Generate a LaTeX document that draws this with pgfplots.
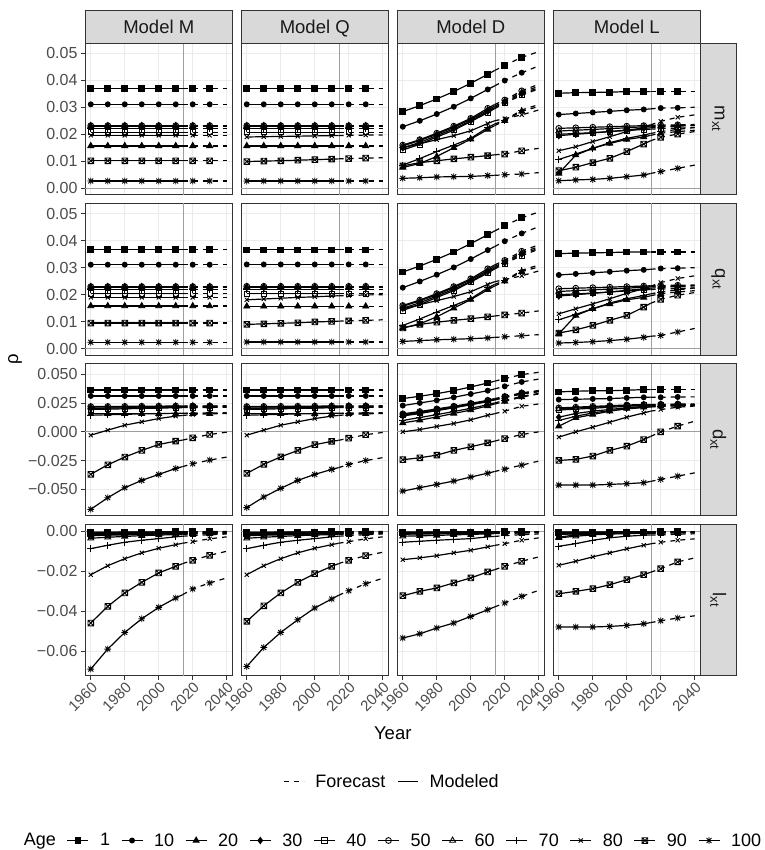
\documentclass[border=0pt]{standalone}
\usepackage{pgfplots}
\pgfplotsset{compat=1.18}
\usepackage{pgfplotstable}
\usepackage{fontspec}
\setmainfont{Liberation Sans}
\usetikzlibrary{plotmarks}

\newcommand\tickfont{\fontsize{16bp}{18bp}\selectfont}
\newcommand\xtickfont{\fontsize{15bp}{17bp}\selectfont}
\newcommand\stripfont{\fontsize{18.5bp}{20bp}\selectfont}
\newcommand\titlefont{\fontsize{18.5bp}{20bp}\selectfont}
\newcommand\legfont{\fontsize{18bp}{20bp}\selectfont}

\pgfdeclareplotmark{sqx}{%
  \pgfpathrectangle{\pgfqpoint{-\pgfplotmarksize}{-\pgfplotmarksize}}{\pgfqpoint{2\pgfplotmarksize}{2\pgfplotmarksize}}%
  \pgfpathmoveto{\pgfqpoint{-\pgfplotmarksize}{-\pgfplotmarksize}}%
  \pgfpathlineto{\pgfqpoint{\pgfplotmarksize}{\pgfplotmarksize}}%
  \pgfpathmoveto{\pgfqpoint{-\pgfplotmarksize}{\pgfplotmarksize}}%
  \pgfpathlineto{\pgfqpoint{\pgfplotmarksize}{-\pgfplotmarksize}}%
  \pgfusepathqstroke}
\pgfdeclareplotmark{ast8}{%
  \pgfpathmoveto{\pgfqpoint{0pt}{\pgfplotmarksize}}\pgfpathlineto{\pgfqpoint{0pt}{-\pgfplotmarksize}}%
  \pgfpathmoveto{\pgfqpoint{\pgfplotmarksize}{0pt}}\pgfpathlineto{\pgfqpoint{-\pgfplotmarksize}{0pt}}%
  \pgfpathmoveto{\pgfqpoint{.72\pgfplotmarksize}{.72\pgfplotmarksize}}\pgfpathlineto{\pgfqpoint{-.72\pgfplotmarksize}{-.72\pgfplotmarksize}}%
  \pgfpathmoveto{\pgfqpoint{-.72\pgfplotmarksize}{.72\pgfplotmarksize}}\pgfpathlineto{\pgfqpoint{.72\pgfplotmarksize}{-.72\pgfplotmarksize}}%
  \pgfusepathqstroke}

% ---------------- data: one table per panel ----------------
% row 1: m_xt
\pgfplotstableread{
year a1 a10 a20 a30 a40 a50 a60 a70 a80 a90 a100
1960 0.0370 0.0311 0.0157 0.0228 0.0208 0.0232 0.0231 0.0222 0.0196 0.0102 0.0027
1970 0.0370 0.0311 0.0157 0.0228 0.0208 0.0232 0.0231 0.0222 0.0196 0.0102 0.0027
1980 0.0370 0.0311 0.0157 0.0228 0.0208 0.0232 0.0231 0.0222 0.0196 0.0102 0.0027
1990 0.0370 0.0311 0.0157 0.0228 0.0208 0.0232 0.0231 0.0222 0.0196 0.0102 0.0027
2000 0.0370 0.0311 0.0157 0.0228 0.0208 0.0232 0.0231 0.0222 0.0196 0.0102 0.0027
2010 0.0370 0.0311 0.0157 0.0228 0.0208 0.0232 0.0231 0.0222 0.0196 0.0102 0.0027
2014 0.0370 0.0311 0.0157 0.0228 0.0208 0.0232 0.0231 0.0222 0.0196 0.0102 0.0027
2020 0.0370 0.0311 0.0157 0.0228 0.0208 0.0232 0.0231 0.0222 0.0196 0.0102 0.0027
2030 0.0370 0.0311 0.0157 0.0228 0.0208 0.0232 0.0231 0.0222 0.0196 0.0102 0.0027
2040 0.0370 0.0311 0.0157 0.0228 0.0208 0.0232 0.0231 0.0222 0.0196 0.0102 0.0027
}\tMa
\pgfplotstableread{
year a1 a10 a20 a30 a40 a50 a60 a70 a80 a90 a100
1960 0.0370 0.0311 0.0157 0.0228 0.0208 0.0232 0.0231 0.0222 0.0190 0.0099 0.0027
1970 0.0370 0.0311 0.0157 0.0228 0.0208 0.0232 0.0231 0.0222 0.0191 0.0101 0.0027
1980 0.0370 0.0311 0.0157 0.0228 0.0208 0.0232 0.0231 0.0222 0.0192 0.0102 0.0027
1990 0.0370 0.0311 0.0157 0.0228 0.0208 0.0232 0.0231 0.0222 0.0193 0.0104 0.0027
2000 0.0370 0.0311 0.0157 0.0228 0.0208 0.0232 0.0231 0.0222 0.0194 0.0106 0.0027
2010 0.0370 0.0311 0.0157 0.0228 0.0208 0.0232 0.0231 0.0222 0.0195 0.0108 0.0027
2014 0.0370 0.0311 0.0157 0.0228 0.0208 0.0232 0.0231 0.0222 0.0195 0.0109 0.0027
2020 0.0370 0.0311 0.0157 0.0228 0.0208 0.0232 0.0231 0.0222 0.0196 0.0110 0.0027
2030 0.0370 0.0311 0.0157 0.0228 0.0208 0.0232 0.0231 0.0222 0.0197 0.0112 0.0027
2040 0.0370 0.0311 0.0157 0.0228 0.0208 0.0232 0.0231 0.0222 0.0197 0.0113 0.0027
}\tQa
\pgfplotstableread{
year a1 a10 a20 a30 a40 a50 a60 a70 a80 a90 a100
1960 0.0284 0.0228 0.0077 0.0150 0.0142 0.0160 0.0157 0.0086 0.0150 0.0083 0.0037
1970 0.0306 0.0250 0.0092 0.0170 0.0163 0.0180 0.0177 0.0110 0.0165 0.0095 0.0039
1980 0.0331 0.0275 0.0118 0.0195 0.0190 0.0204 0.0200 0.0136 0.0180 0.0102 0.0042
1990 0.0358 0.0302 0.0150 0.0220 0.0215 0.0230 0.0226 0.0160 0.0195 0.0109 0.0043
2000 0.0389 0.0333 0.0182 0.0250 0.0247 0.0259 0.0255 0.0185 0.0213 0.0115 0.0044
2010 0.0422 0.0366 0.0218 0.0285 0.0280 0.0296 0.0290 0.0225 0.0240 0.0121 0.0047
2014 0.0436 0.0379 0.0232 0.0299 0.0295 0.0310 0.0304 0.0238 0.0250 0.0124 0.0048
2020 0.0455 0.0399 0.0250 0.0318 0.0315 0.0327 0.0322 0.0252 0.0258 0.0127 0.0050
2030 0.0485 0.0428 0.0285 0.0350 0.0345 0.0361 0.0355 0.0290 0.0272 0.0139 0.0053
2040 0.0506 0.0453 0.0303 0.0372 0.0368 0.0385 0.0378 0.0310 0.0290 0.0148 0.0058
}\tDa
\pgfplotstableread{
year a1 a10 a20 a30 a40 a50 a60 a70 a80 a90 a100
1960 0.0352 0.0273 0.0055 0.0195 0.0200 0.0222 0.0212 0.0107 0.0139 0.0065 0.0028
1970 0.0354 0.0277 0.0123 0.0200 0.0203 0.0224 0.0215 0.0127 0.0154 0.0078 0.0031
1980 0.0355 0.0281 0.0148 0.0205 0.0206 0.0226 0.0218 0.0148 0.0173 0.0095 0.0033
1990 0.0356 0.0285 0.0166 0.0210 0.0210 0.0228 0.0221 0.0169 0.0191 0.0111 0.0037
2000 0.0358 0.0289 0.0181 0.0216 0.0214 0.0230 0.0224 0.0185 0.0210 0.0136 0.0043
2010 0.0358 0.0292 0.0190 0.0222 0.0218 0.0232 0.0228 0.0197 0.0226 0.0164 0.0049
2014 0.0358 0.0294 0.0196 0.0224 0.0219 0.0233 0.0229 0.0203 0.0235 0.0176 0.0055
2020 0.0358 0.0297 0.0204 0.0227 0.0221 0.0234 0.0230 0.0210 0.0248 0.0189 0.0062
2030 0.0358 0.0298 0.0210 0.0230 0.0223 0.0235 0.0232 0.0218 0.0263 0.0201 0.0074
2040 0.0358 0.0300 0.0215 0.0233 0.0225 0.0236 0.0233 0.0225 0.0272 0.0210 0.0086
}\tLa
% row 2: q_xt
\pgfplotstableread{
year a1 a10 a20 a30 a40 a50 a60 a70 a80 a90 a100
1960 0.0368 0.0311 0.0158 0.0226 0.0205 0.0230 0.0229 0.0218 0.0190 0.0095 0.0024
1970 0.0368 0.0311 0.0158 0.0226 0.0205 0.0230 0.0229 0.0218 0.0190 0.0095 0.0024
1980 0.0368 0.0311 0.0158 0.0226 0.0205 0.0230 0.0229 0.0218 0.0190 0.0095 0.0024
1990 0.0368 0.0311 0.0158 0.0226 0.0205 0.0230 0.0229 0.0218 0.0190 0.0095 0.0024
2000 0.0368 0.0311 0.0158 0.0226 0.0205 0.0230 0.0229 0.0218 0.0190 0.0095 0.0024
2010 0.0368 0.0311 0.0158 0.0226 0.0205 0.0230 0.0229 0.0218 0.0190 0.0095 0.0024
2014 0.0368 0.0311 0.0158 0.0226 0.0205 0.0230 0.0229 0.0218 0.0190 0.0095 0.0024
2020 0.0368 0.0311 0.0158 0.0226 0.0205 0.0230 0.0229 0.0218 0.0190 0.0095 0.0024
2030 0.0368 0.0311 0.0158 0.0226 0.0205 0.0230 0.0229 0.0218 0.0190 0.0095 0.0024
2040 0.0368 0.0311 0.0158 0.0226 0.0205 0.0230 0.0229 0.0218 0.0190 0.0095 0.0024
}\tMb
\pgfplotstableread{
year a1 a10 a20 a30 a40 a50 a60 a70 a80 a90 a100
1960 0.0366 0.0312 0.0157 0.0226 0.0203 0.0231 0.0229 0.0218 0.0181 0.0090 0.0025
1970 0.0366 0.0312 0.0157 0.0226 0.0203 0.0231 0.0229 0.0218 0.0184 0.0092 0.0025
1980 0.0366 0.0312 0.0157 0.0226 0.0203 0.0231 0.0229 0.0218 0.0187 0.0094 0.0025
1990 0.0366 0.0312 0.0157 0.0226 0.0203 0.0231 0.0229 0.0218 0.0190 0.0096 0.0025
2000 0.0366 0.0312 0.0157 0.0226 0.0203 0.0231 0.0229 0.0218 0.0192 0.0099 0.0025
2010 0.0366 0.0312 0.0157 0.0226 0.0203 0.0231 0.0229 0.0218 0.0195 0.0101 0.0025
2014 0.0366 0.0312 0.0157 0.0226 0.0203 0.0231 0.0229 0.0218 0.0196 0.0102 0.0025
2020 0.0366 0.0312 0.0157 0.0226 0.0203 0.0231 0.0229 0.0218 0.0197 0.0103 0.0025
2030 0.0366 0.0312 0.0157 0.0226 0.0203 0.0231 0.0229 0.0218 0.0199 0.0105 0.0025
2040 0.0366 0.0312 0.0157 0.0226 0.0203 0.0231 0.0229 0.0218 0.0200 0.0107 0.0025
}\tQb
\pgfplotstableread{
year a1 a10 a20 a30 a40 a50 a60 a70 a80 a90 a100
1960 0.0284 0.0226 0.0077 0.0150 0.0142 0.0160 0.0157 0.0086 0.0148 0.0077 0.0027
1970 0.0306 0.0249 0.0092 0.0170 0.0163 0.0180 0.0177 0.0110 0.0163 0.0090 0.0030
1980 0.0331 0.0274 0.0118 0.0195 0.0190 0.0204 0.0200 0.0136 0.0178 0.0098 0.0033
1990 0.0358 0.0301 0.0150 0.0220 0.0215 0.0230 0.0226 0.0160 0.0193 0.0105 0.0035
2000 0.0389 0.0332 0.0182 0.0250 0.0247 0.0259 0.0255 0.0185 0.0211 0.0111 0.0037
2010 0.0422 0.0365 0.0218 0.0285 0.0280 0.0296 0.0290 0.0225 0.0238 0.0118 0.0040
2014 0.0436 0.0378 0.0232 0.0299 0.0295 0.0310 0.0304 0.0238 0.0248 0.0121 0.0042
2020 0.0455 0.0398 0.0250 0.0318 0.0315 0.0327 0.0322 0.0252 0.0256 0.0125 0.0044
2030 0.0485 0.0427 0.0285 0.0350 0.0345 0.0361 0.0355 0.0290 0.0270 0.0132 0.0048
2040 0.0506 0.0452 0.0303 0.0372 0.0368 0.0385 0.0378 0.0310 0.0288 0.0140 0.0052
}\tDb
\pgfplotstableread{
year a1 a10 a20 a30 a40 a50 a60 a70 a80 a90 a100
1960 0.0352 0.0273 0.0055 0.0195 0.0200 0.0222 0.0212 0.0107 0.0129 0.0058 0.0021
1970 0.0354 0.0277 0.0123 0.0200 0.0203 0.0224 0.0215 0.0127 0.0148 0.0070 0.0023
1980 0.0355 0.0281 0.0148 0.0205 0.0206 0.0226 0.0218 0.0148 0.0166 0.0086 0.0026
1990 0.0356 0.0285 0.0166 0.0210 0.0210 0.0228 0.0221 0.0169 0.0185 0.0105 0.0030
2000 0.0358 0.0289 0.0181 0.0216 0.0214 0.0230 0.0224 0.0185 0.0205 0.0123 0.0035
2010 0.0358 0.0292 0.0190 0.0222 0.0218 0.0232 0.0228 0.0197 0.0222 0.0154 0.0042
2014 0.0358 0.0294 0.0196 0.0224 0.0219 0.0233 0.0229 0.0203 0.0231 0.0168 0.0046
2020 0.0358 0.0297 0.0204 0.0227 0.0221 0.0234 0.0230 0.0210 0.0245 0.0183 0.0049
2030 0.0358 0.0298 0.0210 0.0230 0.0223 0.0235 0.0232 0.0218 0.0260 0.0198 0.0062
2040 0.0358 0.0300 0.0215 0.0233 0.0225 0.0236 0.0233 0.0225 0.0270 0.0208 0.0075
}\tLb
% row 3: d_xt
\pgfplotstableread{
year a1 a10 a20 a30 a40 a50 a60 a70 a80 a90 a100
1960 0.0365 0.0313 0.0157 0.0205 0.0195 0.0220 0.0215 0.0145 -0.0029 -0.0370 -0.0675
1970 0.0365 0.0313 0.0157 0.0207 0.0198 0.0221 0.0216 0.0149 0.0015 -0.0287 -0.0574
1980 0.0365 0.0313 0.0157 0.0209 0.0201 0.0222 0.0217 0.0153 0.0058 -0.0220 -0.0487
1990 0.0365 0.0313 0.0157 0.0211 0.0204 0.0223 0.0218 0.0156 0.0087 -0.0162 -0.0423
2000 0.0365 0.0313 0.0157 0.0213 0.0207 0.0224 0.0220 0.0159 0.0116 -0.0110 -0.0371
2010 0.0365 0.0313 0.0157 0.0215 0.0210 0.0225 0.0222 0.0162 0.0137 -0.0081 -0.0319
2014 0.0365 0.0313 0.0157 0.0215 0.0211 0.0225 0.0222 0.0163 0.0143 -0.0072 -0.0303
2020 0.0365 0.0313 0.0157 0.0216 0.0212 0.0226 0.0223 0.0164 0.0151 -0.0052 -0.0278
2030 0.0365 0.0313 0.0157 0.0217 0.0213 0.0226 0.0223 0.0165 0.0157 -0.0023 -0.0246
2040 0.0365 0.0313 0.0157 0.0218 0.0214 0.0227 0.0224 0.0166 0.0160 -0.0003 -0.0220
}\tMc
\pgfplotstableread{
year a1 a10 a20 a30 a40 a50 a60 a70 a80 a90 a100
1960 0.0365 0.0313 0.0157 0.0205 0.0195 0.0220 0.0215 0.0145 -0.0029 -0.0362 -0.0660
1970 0.0365 0.0313 0.0157 0.0207 0.0198 0.0221 0.0216 0.0149 0.0015 -0.0283 -0.0568
1980 0.0365 0.0313 0.0157 0.0209 0.0201 0.0222 0.0217 0.0153 0.0058 -0.0218 -0.0492
1990 0.0365 0.0313 0.0157 0.0211 0.0204 0.0223 0.0218 0.0156 0.0087 -0.0162 -0.0423
2000 0.0365 0.0313 0.0157 0.0213 0.0207 0.0224 0.0220 0.0159 0.0116 -0.0112 -0.0371
2010 0.0365 0.0313 0.0157 0.0215 0.0210 0.0225 0.0222 0.0162 0.0137 -0.0083 -0.0327
2014 0.0365 0.0313 0.0157 0.0215 0.0211 0.0225 0.0222 0.0163 0.0143 -0.0074 -0.0312
2020 0.0365 0.0313 0.0157 0.0216 0.0212 0.0226 0.0223 0.0164 0.0151 -0.0055 -0.0284
2030 0.0365 0.0313 0.0157 0.0217 0.0213 0.0226 0.0223 0.0165 0.0157 -0.0025 -0.0250
2040 0.0365 0.0313 0.0157 0.0218 0.0214 0.0227 0.0224 0.0166 0.0160 -0.0005 -0.0225
}\tQc
\pgfplotstableread{
year a1 a10 a20 a30 a40 a50 a60 a70 a80 a90 a100
1960 0.0290 0.0229 0.0078 0.0138 0.0145 0.0157 0.0150 0.0099 0.0000 -0.0243 -0.0516
1970 0.0310 0.0252 0.0102 0.0160 0.0165 0.0177 0.0170 0.0125 0.0020 -0.0226 -0.0487
1980 0.0333 0.0275 0.0130 0.0185 0.0188 0.0200 0.0193 0.0150 0.0047 -0.0203 -0.0458
1990 0.0359 0.0301 0.0160 0.0210 0.0212 0.0223 0.0217 0.0177 0.0073 -0.0162 -0.0429
2000 0.0391 0.0330 0.0190 0.0236 0.0238 0.0248 0.0243 0.0205 0.0105 -0.0130 -0.0394
2010 0.0426 0.0359 0.0226 0.0264 0.0266 0.0275 0.0270 0.0237 0.0145 -0.0096 -0.0360
2014 0.0441 0.0374 0.0242 0.0278 0.0280 0.0290 0.0284 0.0252 0.0158 -0.0081 -0.0346
2020 0.0464 0.0397 0.0265 0.0298 0.0300 0.0308 0.0303 0.0273 0.0180 -0.0058 -0.0325
2030 0.0499 0.0435 0.0303 0.0330 0.0332 0.0340 0.0335 0.0310 0.0223 -0.0023 -0.0290
2040 0.0519 0.0460 0.0330 0.0350 0.0352 0.0360 0.0355 0.0335 0.0243 0.0000 -0.0255
}\tDc
\pgfplotstableread{
year a1 a10 a20 a30 a40 a50 a60 a70 a80 a90 a100
1960 0.0348 0.0281 0.0049 0.0128 0.0190 0.0209 0.0200 0.0099 -0.0046 -0.0249 -0.0464
1970 0.0354 0.0284 0.0122 0.0160 0.0198 0.0215 0.0207 0.0136 0.0000 -0.0240 -0.0464
1980 0.0358 0.0287 0.0151 0.0180 0.0206 0.0222 0.0215 0.0165 0.0041 -0.0211 -0.0464
1990 0.0358 0.0290 0.0180 0.0195 0.0214 0.0228 0.0222 0.0185 0.0084 -0.0162 -0.0458
2000 0.0363 0.0296 0.0203 0.0210 0.0222 0.0234 0.0229 0.0200 0.0128 -0.0125 -0.0452
2010 0.0368 0.0301 0.0215 0.0222 0.0230 0.0238 0.0235 0.0212 0.0165 -0.0067 -0.0443
2014 0.0368 0.0301 0.0219 0.0226 0.0232 0.0239 0.0236 0.0217 0.0180 -0.0040 -0.0432
2020 0.0368 0.0301 0.0223 0.0229 0.0234 0.0240 0.0237 0.0222 0.0194 0.0000 -0.0414
2030 0.0368 0.0304 0.0229 0.0232 0.0236 0.0242 0.0238 0.0227 0.0215 0.0050 -0.0386
2040 0.0368 0.0305 0.0232 0.0234 0.0237 0.0243 0.0239 0.0230 0.0225 0.0093 -0.0357
}\tLc
% row 4: l_xt
\pgfplotstableread{
year a1 a10 a20 a30 a40 a50 a60 a70 a80 a90 a100
1960 -0.0008 -0.0005 -0.0017 -0.0012 -0.0022 -0.0019 -0.0035 -0.0087 -0.0217 -0.0458 -0.0688
1970 -0.0007 -0.0005 -0.0015 -0.0011 -0.0020 -0.0017 -0.0030 -0.0070 -0.0172 -0.0375 -0.0588
1980 -0.0006 -0.0004 -0.0013 -0.0010 -0.0018 -0.0015 -0.0026 -0.0055 -0.0137 -0.0308 -0.0505
1990 -0.0005 -0.0004 -0.0012 -0.0009 -0.0016 -0.0014 -0.0022 -0.0045 -0.0108 -0.0255 -0.0437
2000 -0.0004 -0.0003 -0.0011 -0.0008 -0.0014 -0.0013 -0.0019 -0.0037 -0.0085 -0.0208 -0.0380
2010 -0.0003 -0.0003 -0.0010 -0.0007 -0.0013 -0.0012 -0.0017 -0.0028 -0.0067 -0.0175 -0.0333
2014 -0.0003 -0.0003 -0.0009 -0.0007 -0.0012 -0.0011 -0.0016 -0.0025 -0.0060 -0.0162 -0.0317
2020 -0.0002 -0.0002 -0.0008 -0.0006 -0.0011 -0.0010 -0.0014 -0.0022 -0.0052 -0.0145 -0.0288
2030 -0.0002 -0.0002 -0.0007 -0.0005 -0.0010 -0.0009 -0.0012 -0.0017 -0.0038 -0.0120 -0.0258
2040 -0.0001 -0.0002 -0.0006 -0.0005 -0.0009 -0.0008 -0.0011 -0.0014 -0.0028 -0.0100 -0.0233
}\tMd
\pgfplotstableread{
year a1 a10 a20 a30 a40 a50 a60 a70 a80 a90 a100
1960 -0.0008 -0.0005 -0.0017 -0.0012 -0.0022 -0.0019 -0.0035 -0.0087 -0.0217 -0.0450 -0.0675
1970 -0.0007 -0.0005 -0.0015 -0.0011 -0.0020 -0.0017 -0.0030 -0.0070 -0.0172 -0.0372 -0.0580
1980 -0.0006 -0.0004 -0.0013 -0.0010 -0.0018 -0.0015 -0.0026 -0.0055 -0.0137 -0.0308 -0.0505
1990 -0.0005 -0.0004 -0.0012 -0.0009 -0.0016 -0.0014 -0.0022 -0.0045 -0.0108 -0.0255 -0.0442
2000 -0.0004 -0.0003 -0.0011 -0.0008 -0.0014 -0.0013 -0.0019 -0.0037 -0.0085 -0.0212 -0.0383
2010 -0.0003 -0.0003 -0.0010 -0.0007 -0.0013 -0.0012 -0.0017 -0.0028 -0.0067 -0.0175 -0.0338
2014 -0.0003 -0.0003 -0.0009 -0.0007 -0.0012 -0.0011 -0.0016 -0.0025 -0.0060 -0.0162 -0.0320
2020 -0.0002 -0.0002 -0.0008 -0.0006 -0.0011 -0.0010 -0.0014 -0.0022 -0.0052 -0.0145 -0.0297
2030 -0.0002 -0.0002 -0.0007 -0.0005 -0.0010 -0.0009 -0.0012 -0.0017 -0.0038 -0.0122 -0.0262
2040 -0.0001 -0.0002 -0.0006 -0.0005 -0.0009 -0.0008 -0.0011 -0.0014 -0.0028 -0.0105 -0.0235
}\tQd
\pgfplotstableread{
year a1 a10 a20 a30 a40 a50 a60 a70 a80 a90 a100
1960 -0.0006 -0.0004 -0.0012 -0.0010 -0.0015 -0.0013 -0.0025 -0.0055 -0.0142 -0.0322 -0.0533
1970 -0.0006 -0.0004 -0.0011 -0.0009 -0.0014 -0.0012 -0.0023 -0.0050 -0.0133 -0.0300 -0.0512
1980 -0.0005 -0.0004 -0.0010 -0.0009 -0.0013 -0.0011 -0.0021 -0.0045 -0.0122 -0.0283 -0.0483
1990 -0.0005 -0.0003 -0.0009 -0.0008 -0.0012 -0.0010 -0.0018 -0.0041 -0.0108 -0.0258 -0.0458
2000 -0.0004 -0.0003 -0.0008 -0.0007 -0.0011 -0.0009 -0.0016 -0.0037 -0.0095 -0.0233 -0.0425
2010 -0.0004 -0.0003 -0.0007 -0.0006 -0.0010 -0.0008 -0.0013 -0.0028 -0.0078 -0.0203 -0.0392
2014 -0.0003 -0.0003 -0.0007 -0.0006 -0.0009 -0.0008 -0.0012 -0.0026 -0.0071 -0.0192 -0.0378
2020 -0.0003 -0.0002 -0.0006 -0.0005 -0.0008 -0.0007 -0.0011 -0.0022 -0.0062 -0.0175 -0.0358
2030 -0.0003 -0.0002 -0.0005 -0.0005 -0.0007 -0.0006 -0.0009 -0.0017 -0.0045 -0.0150 -0.0325
2040 -0.0002 -0.0002 -0.0005 -0.0004 -0.0006 -0.0005 -0.0008 -0.0014 -0.0033 -0.0128 -0.0295
}\tDd
\pgfplotstableread{
year a1 a10 a20 a30 a40 a50 a60 a70 a80 a90 a100
1960 -0.0006 -0.0004 -0.0030 -0.0015 -0.0015 -0.0013 -0.0033 -0.0075 -0.0170 -0.0312 -0.0478
1970 -0.0006 -0.0004 -0.0018 -0.0012 -0.0014 -0.0012 -0.0025 -0.0062 -0.0150 -0.0300 -0.0478
1980 -0.0005 -0.0004 -0.0014 -0.0010 -0.0013 -0.0011 -0.0018 -0.0045 -0.0128 -0.0287 -0.0478
1990 -0.0005 -0.0003 -0.0011 -0.0009 -0.0012 -0.0010 -0.0014 -0.0033 -0.0108 -0.0267 -0.0475
2000 -0.0004 -0.0003 -0.0009 -0.0008 -0.0011 -0.0009 -0.0012 -0.0025 -0.0088 -0.0242 -0.0470
2010 -0.0004 -0.0003 -0.0008 -0.0007 -0.0010 -0.0008 -0.0010 -0.0020 -0.0070 -0.0217 -0.0462
2014 -0.0003 -0.0003 -0.0008 -0.0007 -0.0009 -0.0008 -0.0010 -0.0019 -0.0063 -0.0205 -0.0456
2020 -0.0003 -0.0002 -0.0007 -0.0006 -0.0008 -0.0007 -0.0009 -0.0018 -0.0055 -0.0187 -0.0447
2030 -0.0003 -0.0002 -0.0006 -0.0006 -0.0007 -0.0006 -0.0008 -0.0015 -0.0045 -0.0153 -0.0433
2040 -0.0002 -0.0002 -0.0006 -0.0005 -0.0006 -0.0005 -0.0008 -0.0013 -0.0038 -0.0133 -0.0422
}\tLd

\pgfplotsset{
  mline/.style={black, line width=1.2bp, no markers},
  fdash/.style={dash pattern=on 5bp off 5bp},
  mk/.style={black, mark options={solid, line width=0.9bp, fill=black}},
  age1/.style={mk, mark=square*, mark size=2.9bp},
  age10/.style={mk, mark=*, mark size=2.5bp},
  age20/.style={mk, mark=triangle*, mark size=3.4bp},
  age30/.style={mk, mark=diamond*, mark size=3.1bp},
  age40/.style={mk, mark=square, mark size=2.7bp},
  age50/.style={mk, mark=o, mark size=2.9bp},
  age60/.style={mk, mark=triangle, mark size=3.4bp},
  age70/.style={mk, mark=+, mark size=3.4bp},
  age80/.style={mk, mark=x, mark size=2.9bp},
  age90/.style={mk, mark=sqx, mark size=2.8bp},
  age100/.style={mk, mark=ast8, mark size=3.4bp},
  panel/.style={
    scale only axis, width=147.5bp, height=151.7bp, anchor=north west,
    xmin=1956.6, xmax=2043.4,
    xtick={1960,1980,2000,2020,2040},
    scaled y ticks=false, scaled x ticks=false,
    axis line style={draw=black!80, line width=0.9bp},
    grid=major, major grid style={draw=black!8, line width=1.1bp},
    tick align=outside, xtick pos=left, ytick pos=left,
    major tick length=4bp,
    tick style={draw=black!80, line width=0.9bp},
    tick label style={font=\tickfont, text=black!70},
    xticklabel style={font=\xtickfont, rotate=45, anchor=north east, inner sep=1bp},
    extra x ticks={2014.5}, extra x tick labels={},
    extra x tick style={grid=major, major grid style={draw=black!38, line width=0.9bp}, tick style={draw=none}},
    extra y ticks={0}, extra y tick labels={},
    extra y tick style={grid=major, major grid style={draw=black!38, line width=0.9bp}, tick style={draw=none}},
  },
  rowA/.style={ymin=-0.00237, ymax=0.0538, ytick={0,0.01,0.02,0.03,0.04,0.05}, yticklabels={0.00,0.01,0.02,0.03,0.04,0.05}},
  rowC/.style={ymin=-0.0729, ymax=0.0593, ytick={-0.05,-0.025,0,0.025,0.05}, yticklabels={−0.050,−0.025,0.000,0.025,0.050}},
  rowD/.style={ymin=-0.0722, ymax=0.0035, ytick={-0.06,-0.04,-0.02,0}, yticklabels={−0.06,−0.04,−0.02,0.00}},
  noy/.style={yticklabels={}, major y tick style={draw=none}},
  nox/.style={xticklabels={}, major x tick style={draw=none}},
  botx/.style={xticklabels={1960,1980,2000,2020,2040}},
}

\newcommand\series[2]{%
  \addplot[mline, restrict x to domain=1959:2015] table[x=year,y=a#2]{#1};
  \addplot[mline, fdash, restrict x to domain=2013:2041] table[x=year,y=a#2]{#1};
  \addplot[age#2, only marks, mark indices={1,2,3,4,5,6,8,9}] table[x=year,y=a#2]{#1};
}
\newcommand\allseries[1]{\series{#1}{100}\series{#1}{90}\series{#1}{80}\series{#1}{70}\series{#1}{60}\series{#1}{50}\series{#1}{40}\series{#1}{30}\series{#1}{20}\series{#1}{10}\series{#1}{1}}
\newcommand\panel[4]{%
  \begin{axis}[panel, at={(#1bp,-#2bp)}, #3]
  \allseries{#4}
  \end{axis}}

\begin{document}
\begin{tikzpicture}
\path[use as bounding box] (0,0) rectangle (765bp,-850bp);

% row 1
\panel{85}{43}{rowA, nox}{\tMa}
\panel{241}{43}{rowA, nox, noy}{\tQa}
\panel{397}{43}{rowA, nox, noy}{\tDa}
\panel{553}{43}{rowA, nox, noy}{\tLa}
% row 2
\panel{85}{203.4}{rowA, nox}{\tMb}
\panel{241}{203.4}{rowA, nox, noy}{\tQb}
\panel{397}{203.4}{rowA, nox, noy}{\tDb}
\panel{553}{203.4}{rowA, nox, noy}{\tLb}
% row 3
\panel{85}{363.8}{rowC, nox}{\tMc}
\panel{241}{363.8}{rowC, nox, noy}{\tQc}
\panel{397}{363.8}{rowC, nox, noy}{\tDc}
\panel{553}{363.8}{rowC, nox, noy}{\tLc}
% row 4
\panel{85}{524.2}{rowD, botx}{\tMd}
\panel{241}{524.2}{rowD, botx, noy}{\tQd}
\panel{397}{524.2}{rowD, botx, noy}{\tDd}
\panel{553}{524.2}{rowD, botx, noy}{\tLd}

% strips
\begin{scope}[strip/.style={fill=black!15, draw=black!80, line width=0.9bp}]
\draw[strip] (85bp,-10bp) rectangle (232.5bp,-43bp);
\draw[strip] (241bp,-10bp) rectangle (388.5bp,-43bp);
\draw[strip] (397bp,-10bp) rectangle (544.5bp,-43bp);
\draw[strip] (553bp,-10bp) rectangle (700.5bp,-43bp);
\node[font=\stripfont, text=black!90, anchor=base] at (158.75bp,-33bp) {Model M};
\node[font=\stripfont, text=black!90, anchor=base] at (314.75bp,-33bp) {Model Q};
\node[font=\stripfont, text=black!90, anchor=base] at (470.75bp,-33bp) {Model D};
\node[font=\stripfont, text=black!90, anchor=base] at (626.75bp,-33bp) {Model L};
\draw[strip] (700.5bp,-43bp) rectangle (736bp,-194.7bp);
\draw[strip] (700.5bp,-203.4bp) rectangle (736bp,-355.1bp);
\draw[strip] (700.5bp,-363.8bp) rectangle (736bp,-515.5bp);
\draw[strip] (700.5bp,-524.2bp) rectangle (736bp,-675.9bp);
\node[font=\stripfont, text=black!90, rotate=-90] at (718.25bp,-118.85bp) {m\textsubscript{xt}};
\node[font=\stripfont, text=black!90, rotate=-90] at (718.25bp,-279.25bp) {q\textsubscript{xt}};
\node[font=\stripfont, text=black!90, rotate=-90] at (718.25bp,-439.65bp) {d\textsubscript{xt}};
\node[font=\stripfont, text=black!90, rotate=-90] at (718.25bp,-600.05bp) {l\textsubscript{xt}};
\end{scope}

% axis titles
\node[font=\titlefont, rotate=90] at (15bp,-359.5bp) {ρ};
\node[font=\titlefont] at (392.75bp,-733.4bp) {Year};

% legend 1
\begin{axis}[hide axis, scale only axis, width=1bp, height=1bp, xmin=0, xmax=1, ymin=0, ymax=1,
  at={(392bp,-781.5bp)}, anchor=center, legend columns=2,
  legend image code/.code={\draw[#1] (0bp,0bp) -- (20bp,0bp);},
  legend style={at={(0.5,0.5)}, anchor=center, draw=none, fill=none, font=\legfont,
    /tikz/every odd column/.append style={column sep=9bp},
    /tikz/every even column/.append style={column sep=10bp}}]
\addlegendimage{black, line width=1.1bp, fdash}
\addlegendentry{Forecast\strut}
\addlegendimage{black, line width=1.1bp}
\addlegendentry{Modeled\strut}
\end{axis}

% legend 2
\begin{axis}[hide axis, scale only axis, width=1bp, height=1bp, xmin=0, xmax=1, ymin=0, ymax=1,
  at={(388bp,-840.5bp)}, anchor=center, legend columns=12,
  legend image code/.code={\draw[mark repeat=2, mark phase=2, #1] plot coordinates {(0bp,0bp) (10.5bp,0bp) (21bp,0bp)};},
  legend style={at={(0.5,0.5)}, anchor=center, draw=none, fill=none, font=\legfont,
    /tikz/every odd column/.append style={column sep=9bp},
    /tikz/every even column/.append style={column sep=9bp}}]
\addlegendimage{empty legend}
\addlegendentry{Age}
\addlegendimage{black, line width=1.1bp, age1}\addlegendentry{1}
\addlegendimage{black, line width=1.1bp, age10}\addlegendentry{10}
\addlegendimage{black, line width=1.1bp, age20}\addlegendentry{20}
\addlegendimage{black, line width=1.1bp, age30}\addlegendentry{30}
\addlegendimage{black, line width=1.1bp, age40}\addlegendentry{40}
\addlegendimage{black, line width=1.1bp, age50}\addlegendentry{50}
\addlegendimage{black, line width=1.1bp, age60}\addlegendentry{60}
\addlegendimage{black, line width=1.1bp, age70}\addlegendentry{70}
\addlegendimage{black, line width=1.1bp, age80}\addlegendentry{80}
\addlegendimage{black, line width=1.1bp, age90}\addlegendentry{90}
\addlegendimage{black, line width=1.1bp, age100}\addlegendentry{100}
\end{axis}
\end{tikzpicture}
\end{document}
